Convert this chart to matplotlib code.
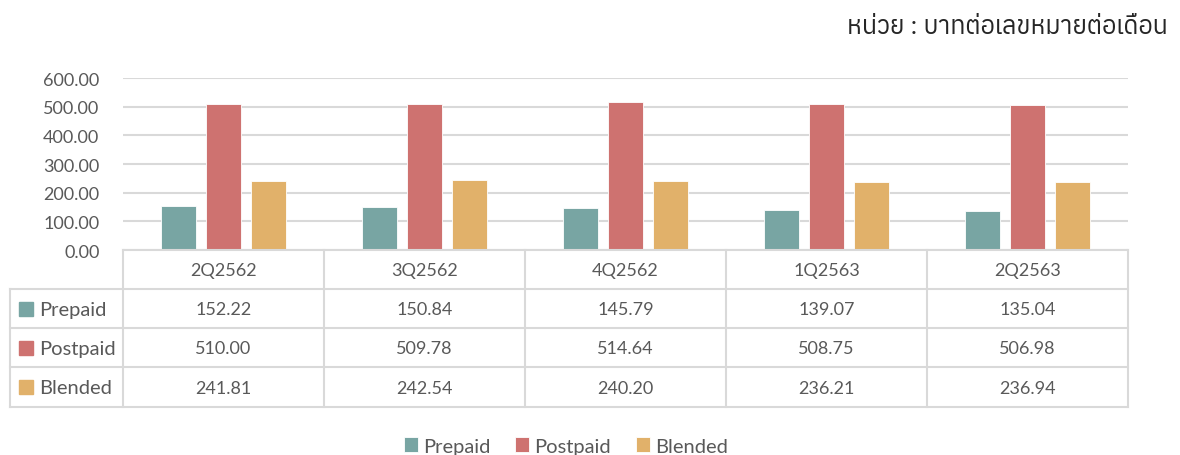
import matplotlib
matplotlib.use("Agg")
import matplotlib.pyplot as plt
from matplotlib import font_manager
from matplotlib.ft2font import FT2Font
from matplotlib.patches import Rectangle

# --- data -------------------------------------------------------------
quarters = ["2Q2562", "3Q2562", "4Q2562", "1Q2563", "2Q2563"]
series_names = ["Prepaid", "Postpaid", "Blended"]
prepaid = [152.22, 150.84, 145.79, 139.07, 135.04]
postpaid = [510.00, 509.78, 514.64, 508.75, 506.98]
blended = [241.81, 242.54, 240.20, 236.21, 236.94]
y_ticks = [0, 100, 200, 300, 400, 500, 600]
unit_label = "หน่วย : บาทต่อเลขหมายต่อเดือน"

colors = ["#78A5A3", "#CE7270", "#E1B16A"]
text_color = "#595959"
line_color = "#D9D9D9"


def find_thai_font():
    """Return the name of an installed family that covers Thai script,
    preferring a regular-weight upright face."""
    probe = [ord(c) for c in "หน่วยบาท"]
    candidates = []
    seen = set()
    for entry in font_manager.fontManager.ttflist:
        if entry.fname in seen:
            continue
        seen.add(entry.fname)
        try:
            ft = FT2Font(entry.fname)
            if all(ft.get_char_index(cp) for cp in probe):
                w = entry.weight if isinstance(entry.weight, int) else 400
                score = abs(w - 400) + (1000 if entry.style != "normal" else 0)
                candidates.append((score, entry.name))
        except Exception:
            continue
    if not candidates:
        return None
    candidates.sort()
    return candidates[0][1]


thai_family = find_thai_font()
families = ["Lato"] + ([thai_family] if thai_family else []) + ["DejaVu Sans"]
plt.rcParams["font.family"] = families

W, H = 1180, 456
fig = plt.figure(figsize=(W / 100, H / 100), dpi=100)

# plot area in pixel terms
x0, x1 = 123, 1128
y_top, y_zero = 79, 251
ax = fig.add_axes([x0 / W, 1 - y_zero / H, (x1 - x0) / W, (y_zero - y_top) / H])

n = len(quarters)
series = [prepaid, postpaid, blended]
bar_w = 0.175
offsets = [-0.224, 0.0, 0.224]
for vals, off, col, name in zip(series, offsets, colors, series_names):
    ax.bar([i + off for i in range(n)], vals, width=bar_w, color=col,
           edgecolor="#ffffff", linewidth=0.6, label=name, zorder=3)

num_size = 13
label_size = 14.5

ax.set_xlim(-0.5, n - 0.5)
ax.set_ylim(0, 600)
ax.set_yticks(y_ticks)
ax.set_yticklabels([f"{v:.2f}" for v in y_ticks], color=text_color, fontsize=num_size)
ax.set_xticks([])
ax.grid(axis="y", color=line_color, linewidth=1.5, zorder=0)
for s in ax.spines.values():
    s.set_visible(False)
ax.tick_params(axis="y", length=0, pad=17)

# --- data table under the bars -----------------------------------------
ov = fig.add_axes([0, 0, 1, 1], facecolor="none")
ov.set_xlim(0, W)
ov.set_ylim(H, 0)
ov.axis("off")

col_w = (x1 - x0) / n
row_edges = [251, 290, 329, 368, 408]
left = 10
lw = 1.5

# horizontal rules
ov.plot([x0, x1], [row_edges[0]] * 2, color=line_color, lw=lw)
for y in row_edges[1:]:
    ov.plot([left, x1], [y, y], color=line_color, lw=lw)
# vertical rules
for i in range(n + 1):
    x = x0 + i * col_w
    ov.plot([x, x], [row_edges[0], row_edges[-1]], color=line_color, lw=lw)
ov.plot([left, left], [row_edges[1], row_edges[-1]], color=line_color, lw=lw)

# header row
for i, q in enumerate(quarters):
    ov.text(x0 + (i + 0.5) * col_w, (row_edges[0] + row_edges[1]) / 2 + 1, q,
            ha="center", va="center", fontsize=num_size, color=text_color)

# series rows
for r, (vals, name, col) in enumerate(zip(series, series_names, colors)):
    yc = (row_edges[r + 1] + row_edges[r + 2]) / 2
    ov.add_patch(Rectangle((19, yc - 7), 14, 14, color=col))
    ov.text(39, yc + 1, name, ha="left", va="center", fontsize=label_size, color=text_color)
    for i, v in enumerate(vals):
        ov.text(x0 + (i + 0.5) * col_w, yc + 1, f"{v:.2f}",
                ha="center", va="center", fontsize=num_size, color=text_color)

# unit caption
ov.text(1168, 27, unit_label, ha="right", va="center", fontsize=18,
        color="#262626", fontweight="normal")

# legend at the bottom
handles, labels = ax.get_legend_handles_labels()
leg = fig.legend(handles, labels, loc="center", bbox_to_anchor=(566 / W, 1 - 447 / H),
                 ncol=3, frameon=False, fontsize=label_size, handlelength=0.7,
                 handleheight=0.7, handletextpad=0.25, columnspacing=1.25,
                 labelcolor=text_color)

fig.savefig("out.png", dpi=100)
